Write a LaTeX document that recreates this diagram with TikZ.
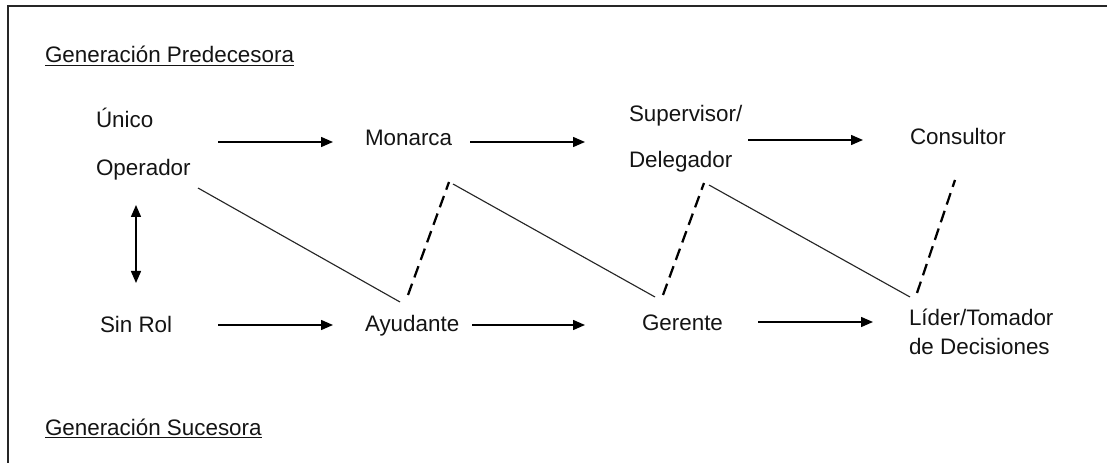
\documentclass[tikz,border=0pt]{standalone}
\usepackage{fontspec}
\setmainfont{Liberation Sans}
\usetikzlibrary{arrows.meta}
\begin{document}
\begin{tikzpicture}[x=0.75pt,y=-0.75pt,
  lbl/.style={anchor=base west,inner sep=0pt,outer sep=0pt,font=\fontsize{16.8}{20}\selectfont,text=black!92},
  arr/.style={line width=1.1pt,-{Triangle[length=9pt,width=7.5pt]}},
  dbl/.style={line width=1.1pt,{Triangle[length=9pt,width=7.5pt]}-{Triangle[length=9pt,width=7.5pt]}},
  solidlink/.style={line width=0.85pt,black!85},
  dashlink/.style={line width=1.7pt,dash pattern=on 9pt off 5pt}]
\useasboundingbox (0,0) rectangle (1107,463);
% frame
\draw[line width=1.6pt,black!85] (8,463) -- (8,6) -- (1107,6);
% texts
\node[lbl] (gen1) at (45,63) {\underline{Generación Predecesora}};
\node[lbl] (unico) at (96,128) {Único};
\node[lbl] (operador) at (96,176) {Operador};
\node[lbl] (monarca) at (365,146) {Monarca};
\node[lbl] (supervisor) at (629,122) {Supervisor/};
\node[lbl] (delegador) at (629,168) {Delegador};
\node[lbl] (consultor) at (910,145) {Consultor};
\node[lbl] (sinrol) at (100,333) {Sin Rol};
\node[lbl] (ayudante) at (365,332) {Ayudante};
\node[lbl] (gerente) at (642,330) {Gerente};
\node[lbl] (lider) at (909,326) {Líder/Tomador};
\node[lbl] (decisiones) at (909,354) {de Decisiones};
\node[lbl] (gen2) at (45,435) {\underline{Generación Sucesora}};
% arrow end points
\coordinate (a1s) at (218,142); \coordinate (a1e) at (333,142);
\coordinate (a2s) at (470,142); \coordinate (a2e) at (585,142);
\coordinate (a3s) at (748,140); \coordinate (a3e) at (863,140);
\coordinate (b1s) at (218,325); \coordinate (b1e) at (333,325);
\coordinate (b2s) at (472,325); \coordinate (b2e) at (585,325);
\coordinate (b3s) at (758,322); \coordinate (b3e) at (873,322);
\coordinate (vs) at (136,205); \coordinate (ve) at (136,283);
% link end points
\coordinate (op) at (198,188); \coordinate (ay) at (400,302);
\coordinate (ayd) at (408,295); \coordinate (mo) at (449,182);
\coordinate (mos) at (453,184); \coordinate (ge) at (655,297);
\coordinate (ged) at (663,295); \coordinate (de) at (704,183);
\coordinate (des) at (709,185); \coordinate (li) at (910,297);
\coordinate (lid) at (917,293); \coordinate (co) at (955,180);
% arrows
\draw[arr] (a1s) -- (a1e);
\draw[arr] (a2s) -- (a2e);
\draw[arr] (a3s) -- (a3e);
\draw[arr] (b1s) -- (b1e);
\draw[arr] (b2s) -- (b2e);
\draw[arr] (b3s) -- (b3e);
\draw[dbl] (vs) -- (ve);
% links
\draw[solidlink] (op) -- (ay);
\draw[solidlink] (mos) -- (ge);
\draw[solidlink] (des) -- (li);
\draw[dashlink] (ayd) -- (mo);
\draw[dashlink] (ged) -- (de);
\draw[dashlink] (lid) -- (co);
\end{tikzpicture}
\end{document}
